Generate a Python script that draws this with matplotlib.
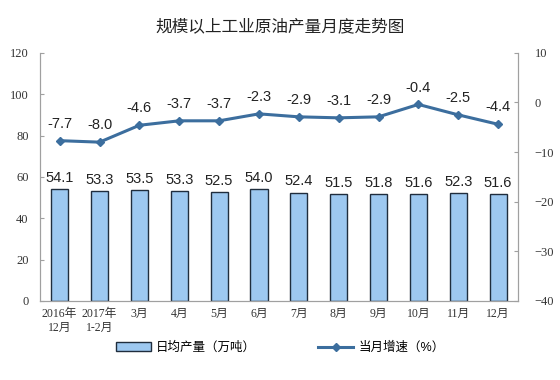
import numpy as np
import matplotlib.pyplot as plt

plt.rcParams['font.family'] = ['Liberation Sans', 'Noto Sans CJK SC']

# data
months = ['2016年\n12月', '2017年\n1-2月', '3月', '4月', '5月', '6月',
          '7月', '8月', '9月', '10月', '11月', '12月']
daily_output = [54.1, 53.3, 53.5, 53.3, 52.5, 54.0, 52.4, 51.5, 51.8, 51.6, 52.3, 51.6]
growth = [-7.7, -8.0, -4.6, -3.7, -3.7, -2.3, -2.9, -3.1, -2.9, -0.4, -2.5, -4.4]

bar_face = '#9DC8F0'
bar_edge = '#1F2D3D'
line_col = '#3C6E9E'
axis_col = '#A0A0A0'

fig = plt.figure(figsize=(5.6, 3.8), dpi=100)
ax = fig.add_axes([0.071, 0.208, 0.854, 0.653])
ax2 = ax.twinx()

x = np.arange(len(months))
bars = ax.bar(x, daily_output, width=0.43, color=bar_face, edgecolor=bar_edge,
              linewidth=1.0, label='日均产量（万吨）', zorder=2)
for xi, v in zip(x, daily_output):
    ax.text(xi, v + 2.0, f'{v:.1f}', ha='center', va='bottom', fontsize=10.5,
            color='#222222')

ln, = ax2.plot(x, growth, color=line_col, lw=2.2, marker='D', markersize=4.5,
               label='当月增速（%）', zorder=3)
for xi, v in zip(x, growth):
    ax2.text(xi, v + 2.0, f'{v:.1f}', ha='center', va='bottom', fontsize=10.5,
             color='#222222')

ax.set_xlim(-0.5, len(months) - 0.5)
ax.set_ylim(0, 120)
ax.set_yticks(np.arange(0, 121, 20))
ax2.set_ylim(-40, 10)
ax2.set_yticks(np.arange(-40, 11, 10))

serif = ['Liberation Serif', 'Noto Sans CJK SC']
ax.set_xticks(x)
ax.set_xticklabels(months, fontsize=8.5, family=serif,
                   color='#333333', linespacing=1.2)
for lab in ax.get_yticklabels() + ax2.get_yticklabels():
    lab.set_family(serif)
    lab.set_fontsize(9)
    lab.set_color('#333333')

for a in (ax, ax2):
    a.spines['top'].set_visible(False)
    for s in ('left', 'right', 'bottom'):
        a.spines[s].set_color(axis_col)
        a.spines[s].set_linewidth(0.8)
ax.tick_params(axis='y', direction='in', length=3, color=axis_col, pad=8)
ax2.tick_params(axis='y', direction='in', length=3, color=axis_col, pad=12)
ax.tick_params(axis='x', length=0, pad=5)

fig.text(0.5, 0.93, '规模以上工业原油产量月度走势图', ha='center', va='center',
         fontsize=12, color='#222222', family=['Noto Sans CJK SC'])

fig.legend(handles=[bars, ln], loc='center', bbox_to_anchor=(0.5, 0.085), ncol=2,
           frameon=False, fontsize=9, handlelength=2.8, columnspacing=5,
           handletextpad=0.4)

fig.savefig('out.png', dpi=100)
